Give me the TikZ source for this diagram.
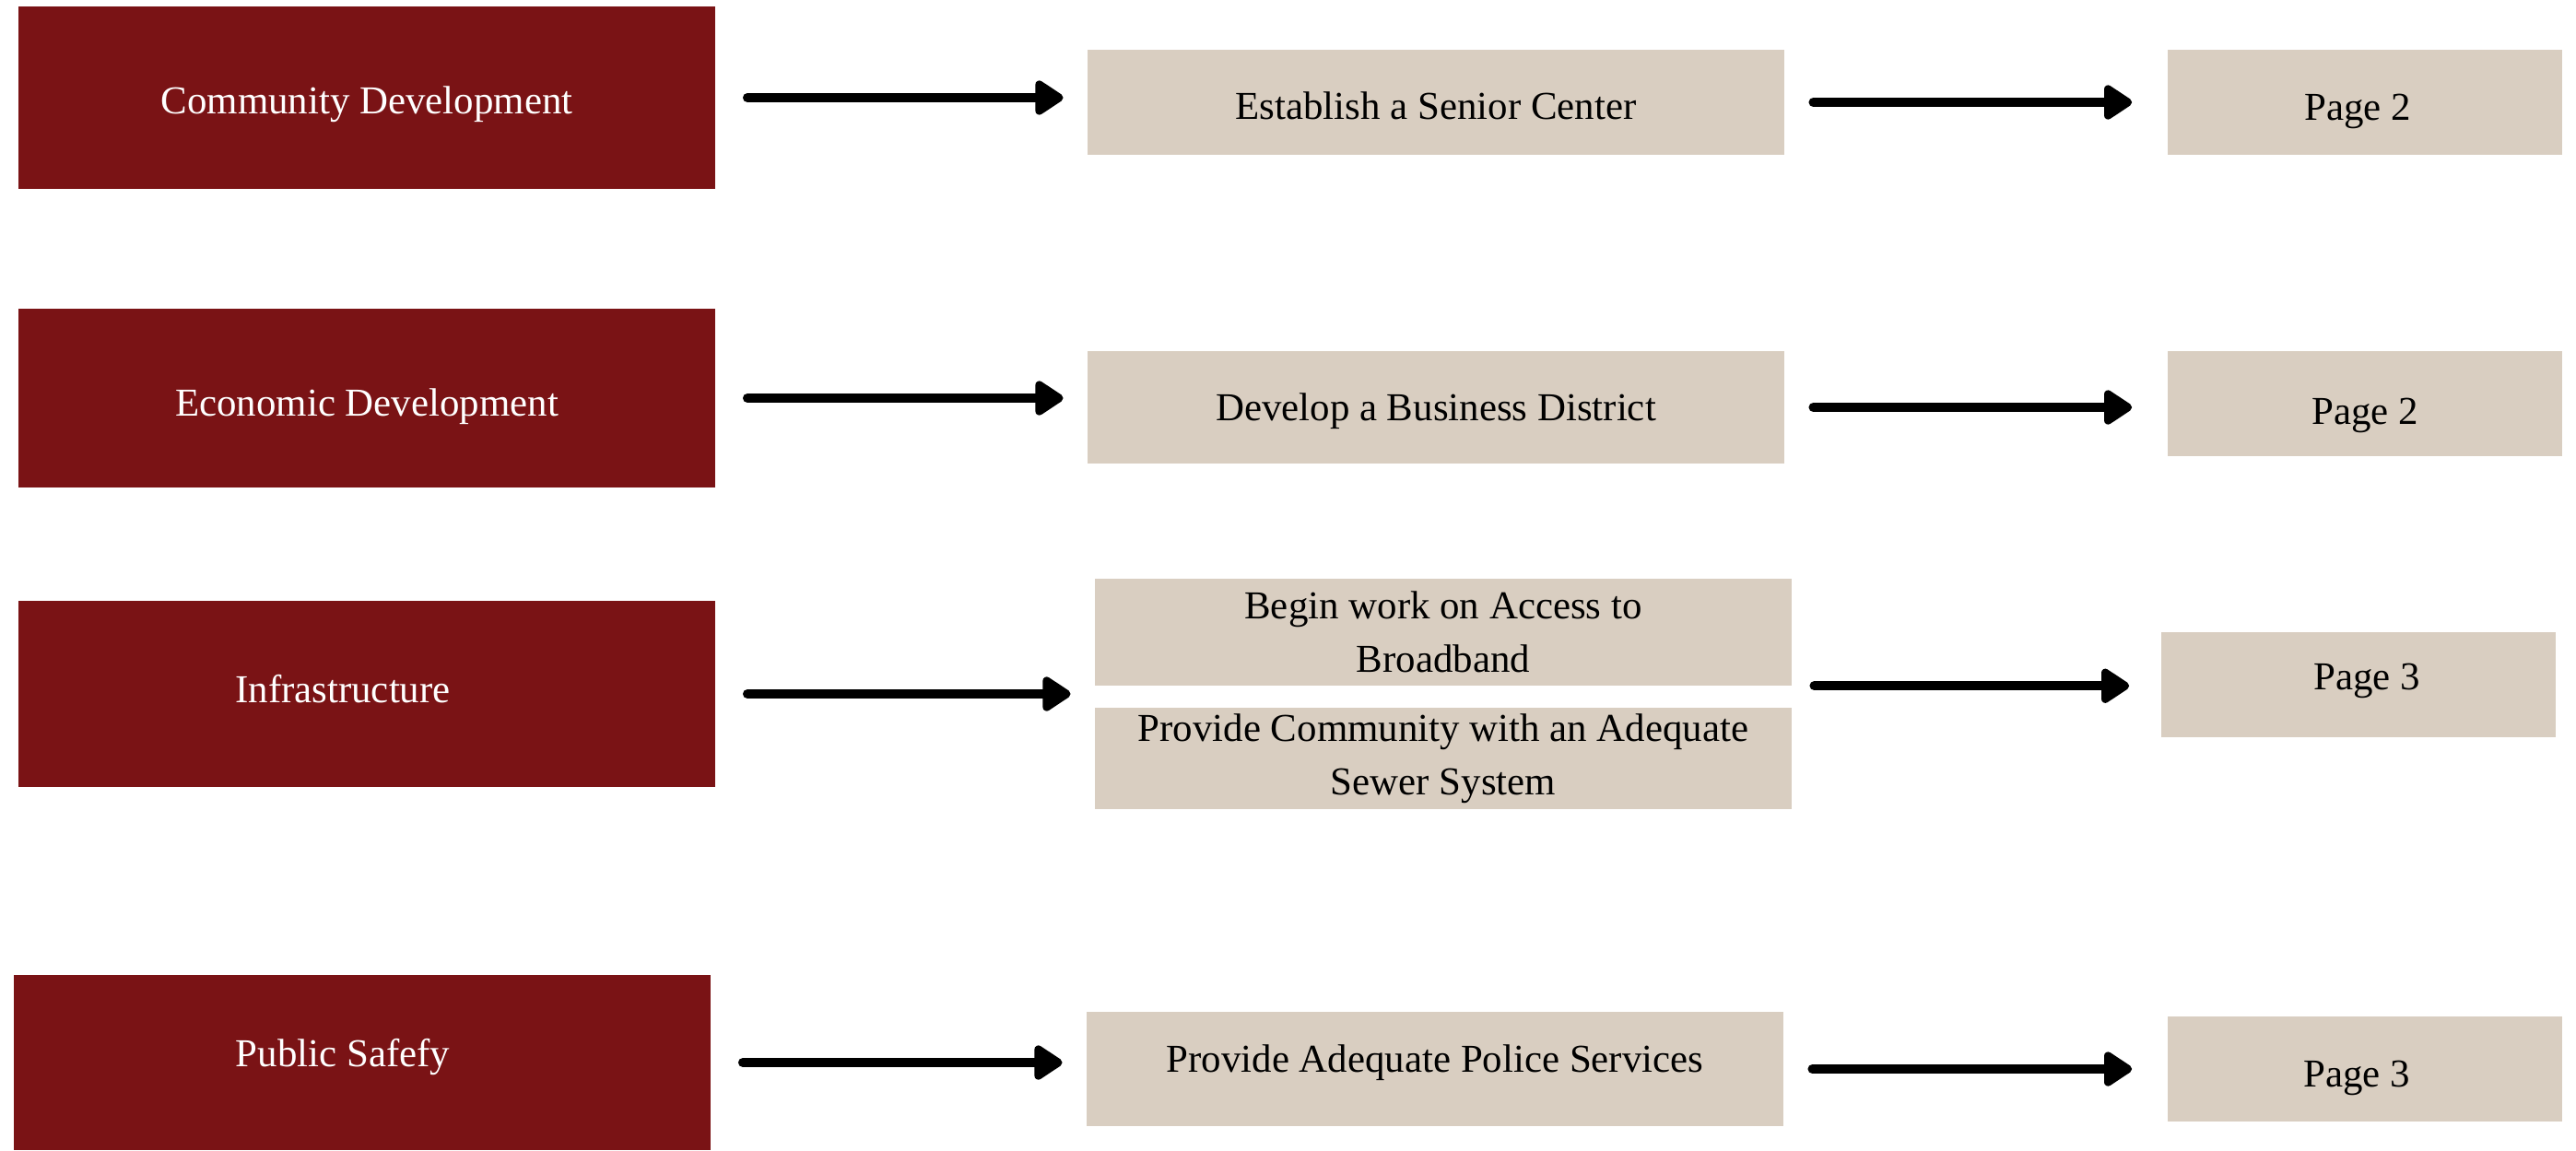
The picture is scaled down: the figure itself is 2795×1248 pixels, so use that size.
\documentclass[tikz,border=0pt]{standalone}
\usepackage{fontspec}
\setmainfont{Liberation Serif}
\usetikzlibrary{arrows.meta}
\definecolor{goalred}{HTML}{7A1315}
\definecolor{tasksand}{HTML}{D9CEC1}

\begin{document}
\begin{tikzpicture}[x=0.01cm, y=-0.01cm,
    goal/.style={fill=goalred, text=white, minimum width=7.56cm, inner sep=0pt, font=\fontsize{12.2}{16.5}\selectfont},
    task/.style={fill=tasksand, minimum width=7.55cm, inner sep=0pt, align=center, font=\fontsize{12.2}{16.5}\selectfont},
    pagebox/.style={fill=tasksand, minimum width=4.28cm, minimum height=1.14cm, inner sep=0pt, font=\fontsize{12.2}{16.5}\selectfont},
    base/.style={text height=#1, text depth=0pt},
    nudge/.style={execute at begin node={\hspace*{#1}}},
    flowarrow/.style={line width=0.1cm, line cap=round, -{Triangle[length=0.34cm,width=0.42cm,round]}}]
    \useasboundingbox (0,0) rectangle (2795,1248);

    % goals
    \node[goal, minimum height=1.98cm, base=0.34cm] (cd) at (398,106) {Community Development};
    \node[goal, minimum height=1.94cm, base=0.38cm] (ed) at (398,432) {Economic Development};
    \node[goal, minimum height=2.02cm, base=0.19cm, nudge=-0.52cm] (inf) at (398,753) {Infrastructure};
    \node[goal, minimum height=1.90cm, base=0.08cm, nudge=-0.42cm] (ps) at (393,1153) {Public Safefy};

    % projects
    \node[task, minimum height=1.14cm, base=0.37cm] (sc) at (1558,111) {Establish a Senior Center};
    \node[task, minimum height=1.22cm, base=0.28cm] (bd) at (1558,442) {Develop a Business District};
    \node[task, minimum height=1.15cm] (bb) at (1566,686) {Begin work on Access to\\Broadband};
    \node[task, minimum height=1.10cm] (sw) at (1566,823) {Provide Community with an Adequate\\Sewer System};
    \node[task, minimum height=1.23cm, base=0.06cm] (ap) at (1557,1160) {Provide Adequate Police Services};

    % pages
    \node[pagebox, base=0.38cm, nudge=-0.16cm] (p1) at (2566,111) {Page 2};
    \node[pagebox, base=0.44cm] (p2) at (2566,438) {Page 2};
    \node[pagebox, base=0.10cm, nudge=0.18cm] (p3) at (2559,743) {Page 3};
    \node[pagebox, base=0.38cm, nudge=-0.18cm] (p4) at (2566,1160) {Page 3};

    \foreach \a/\b in {cd/sc, ed/bd, inf/bb, ps/ap}
        \draw[flowarrow, shorten <=0.34cm, shorten >=0.26cm] (\a.east) -- (\a.east -| \b.west);
    \foreach \a/\b in {sc/p1, bd/p2, ap/p4}
        \draw[flowarrow, shorten <=0.31cm, shorten >=0.38cm] (\a.east) -- (\a.east -| \b.west);
    \draw[flowarrow, shorten <=0.24cm, shorten >=0.34cm] (bb.south east) -- (bb.south east -| p3.west);
\end{tikzpicture}
\end{document}
